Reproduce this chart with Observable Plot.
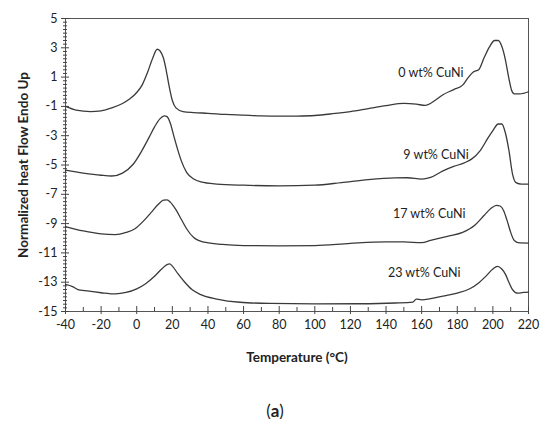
<!DOCTYPE html>
<html>
<head>
<meta charset="utf-8">
<script src="https://cdn.jsdelivr.net/npm/d3@7"></script>
<script src="https://cdn.jsdelivr.net/npm/@observablehq/plot@0.6"></script>
<style>
  body { margin: 0; background: #fff; }
  #chart svg { display: block; }
  [aria-label="y-axis label"], [aria-label="x-axis label"] { font-weight: bold; font-size: 13.5px; }
  #cap { width: 550px; text-align: center; font-family: Lato, sans-serif; font-size: 17px; line-height: 17px; margin-top: 32px; color: #222; }
</style>
</head>
<body>
<div id="chart"></div>
<div id="cap">(<b>a</b>)</div>
<script>
// Series: temperature (°C) and normalized heat flow
const t0 = [-40,-34,-26,-20,-14,-8,-4,0,3,6,9,11.5,13,15,16.5,18,20,22,26,32,40,50,60,70,80,90,100,110,120,130,140,150,157,162,168,172,178,183,186,189,192,195,198,201,203,205,207,209,210.5,212,215,220];
const v0 = [-1.0,-1.25,-1.35,-1.3,-1.1,-0.8,-0.5,-0.05,0.45,1.3,2.3,2.9,2.8,2.3,1.5,0.5,-0.6,-1.1,-1.35,-1.42,-1.47,-1.55,-1.6,-1.65,-1.67,-1.66,-1.62,-1.5,-1.35,-1.15,-0.95,-0.8,-0.85,-0.93,-0.55,-0.2,0.15,0.45,0.95,1.35,1.5,2.3,3.05,3.5,3.5,3.1,2.2,0.9,0.1,-0.15,-0.15,0.0];

const t9 = [-40,-30,-20,-14,-8,-2,3,7,10,13,15.5,17,19,21,23,25,28,32,36,45,60,80,100,115,130,145,152,160,165,172,178,184,188,193,197,200,203,205,207,209,211,213,216,220];
const v9 = [-5.35,-5.55,-5.7,-5.75,-5.55,-4.95,-4.0,-3.1,-2.4,-1.85,-1.65,-1.7,-2.2,-3.1,-3.95,-4.7,-5.5,-5.95,-6.15,-6.3,-6.38,-6.42,-6.38,-6.2,-6.0,-5.88,-5.87,-5.97,-5.85,-5.4,-5.1,-4.85,-4.6,-4.0,-3.2,-2.65,-2.2,-2.2,-2.8,-4.0,-5.6,-6.2,-6.3,-6.3];

const t17 = [-40,-30,-20,-12,-6,-1,4,8,12,15,17,19,22,25,28,32,38,48,60,80,100,120,140,150,160,165,175,183,190,195,199,202,204,206,208,210,212,215,220];
const v17 = [-9.2,-9.5,-9.7,-9.75,-9.6,-9.35,-8.8,-8.25,-7.7,-7.4,-7.38,-7.55,-8.05,-8.7,-9.35,-9.95,-10.27,-10.42,-10.5,-10.52,-10.5,-10.35,-10.25,-10.25,-10.3,-10.15,-9.85,-9.6,-9.1,-8.45,-7.95,-7.75,-7.8,-8.1,-8.8,-9.6,-10.15,-10.32,-10.33];

const t23 = [-40,-36,-33,-29,-20,-12,-6,0,5,10,14,17,18.5,20,23,27,31,36,45,58,75,100,125,145,155,157,160,172,180,187,192,196,200,202.5,205,207,209,211,214,217,220];
const v23 = [-13.15,-13.3,-13.5,-13.58,-13.72,-13.8,-13.7,-13.45,-13.1,-12.6,-12.1,-11.8,-11.75,-11.9,-12.4,-13.0,-13.5,-13.85,-14.15,-14.37,-14.45,-14.48,-14.47,-14.42,-14.36,-14.15,-14.2,-13.95,-13.75,-13.45,-13.05,-12.6,-12.1,-11.92,-12.1,-12.45,-13.0,-13.5,-13.75,-13.7,-13.68];

const seriesNames = ["0 wt% CuNi", "9 wt% CuNi", "17 wt% CuNi", "23 wt% CuNi"];
const labelT = [183.5, 186.4, 184.6, 181.8];
const labelV = [1.25, -4.35, -8.33, -12.36];

const xTicks = d3.range(-40, 221, 20);
const xMinor = d3.range(-30, 220, 20);
const yTicks = d3.range(5, -16, -2);
const yMinor = d3.range(-15, 5.001, 0.25).filter(v => Math.abs(((v + 15) / 2) % 1) > 1e-9);

const temps = [t0, t9, t17, t23];
const vals = [v0, v9, v17, v23];
const rows = [];
temps.forEach((ts, i) => ts.forEach((t, j) => rows.push({series: seriesNames[i], t, v: vals[i][j]})));
const labels = seriesNames.map((s, i) => ({s, t: labelT[i], v: labelV[i]}));

const noText = () => "";
const font = "Lato, sans-serif";
const plot = Plot.plot({
  width: 550,
  height: 370,
  marginLeft: 65,
  marginRight: 22,
  marginTop: 18,
  marginBottom: 59,
  style: {fontFamily: font, fontSize: "12.5px", color: "#222", background: "#fff"},
  x: {domain: [-40, 220]},
  y: {domain: [-15, 5]},
  marks: [
    Plot.frame({stroke: "#555", strokeWidth: 1}),
    Plot.axisY({ticks: yTicks, tickSize: 8, dx: 4, tickFormat: noText, label: null, stroke: "#444"}),
    Plot.axisY({ticks: yMinor, tickSize: 4, dx: 2, tickFormat: noText, label: null, stroke: "#444"}),
    Plot.axisY({ticks: yTicks, tickSize: 0, tickPadding: 8, tickFormat: d => String(d),
      label: "Normalized heat Flow Endo Up", labelAnchor: "center", labelArrow: "none", labelOffset: 47}),
    Plot.axisX({ticks: xTicks, tickSize: 8, dy: -5, tickFormat: noText, label: null, stroke: "#444"}),
    Plot.axisX({ticks: xMinor, tickSize: 4, dy: -4, tickFormat: noText, label: null, stroke: "#444"}),
    Plot.axisX({ticks: xTicks, tickSize: 0, tickPadding: 9, tickFormat: d => String(d),
      label: "Temperature (°C)", labelAnchor: "center", labelArrow: "none", labelOffset: 50}),
    Plot.line(rows, {x: "t", y: "v", z: "series", stroke: "#3a3a3a", strokeWidth: 1.3, curve: "monotone-x"}),
    Plot.text(labels, {x: "t", y: "v", text: "s", textAnchor: "end", fontSize: 12.5, fill: "#222"})
  ]
});
document.getElementById("chart").appendChild(plot);
</script>
</body>
</html>
